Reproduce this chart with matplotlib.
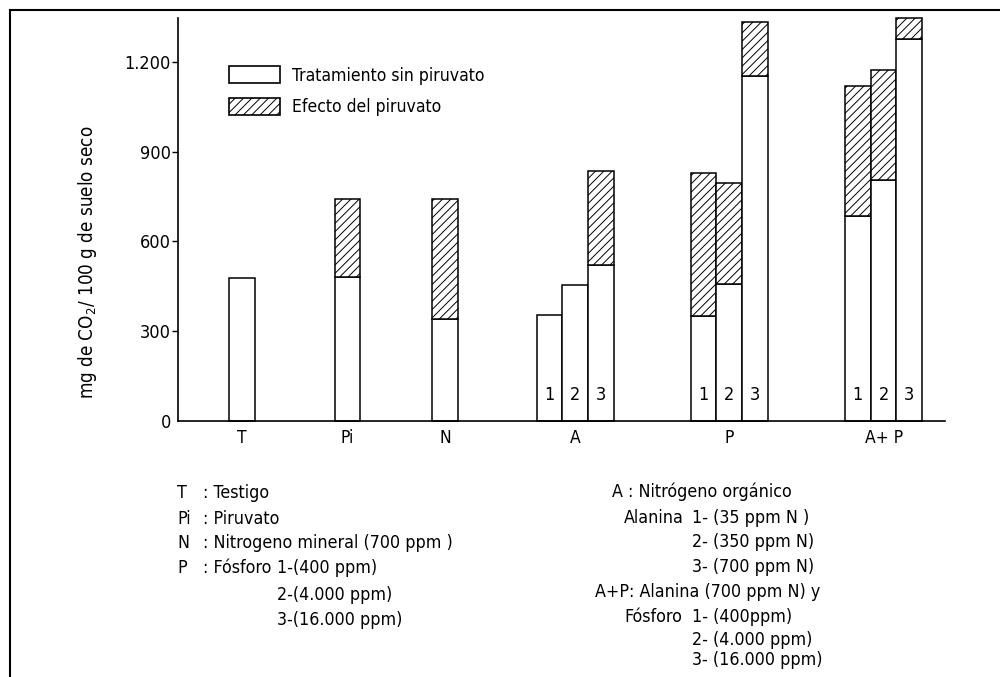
import matplotlib
matplotlib.use("Agg")
from matplotlib import pyplot as plt
from matplotlib.patches import Patch
from matplotlib.lines import Line2D

# valores (mg CO2 / 100 g suelo seco)
single_labels = ["T", "Pi", "N"]
single_base = [479, 480, 341]
single_total = [479, 742, 741]

group_labels = ["A", "P", "A+ P"]
group_base = [[355, 454, 521],
              [351, 457, 1152],
              [686, 804, 1275]]
group_total = [[355, 454, 835],
               [828, 796, 1333],
               [1120, 1173, 1346]]
sub_labels = ["1", "2", "3"]

yticks = [0, 300, 600, 900, 1200]
ytick_labels = ["0", "300", "600", "900", "1.200"]

plt.rcParams["font.family"] = ["DejaVu Sans"]
plt.rcParams["font.stretch"] = "condensed"
plt.rcParams["hatch.linewidth"] = 0.7

fig = plt.figure(figsize=(10, 6.77), dpi=100)
ax = fig.add_axes([0.178, 0.3781, 0.767, 0.5949])

single_x = [2.5, 6.6, 10.4]
group_x = [15.45, 21.45, 27.45]
w = 1.0
lw = 1.1

for x, b, t in zip(single_x, single_base, single_total):
    ax.bar(x, b, width=w, color="white", edgecolor="black", linewidth=lw, clip_on=False)
    if t > b:
        ax.bar(x, t - b, bottom=b, width=w, color="white", edgecolor="black",
               hatch="////", linewidth=lw, clip_on=False)

for gx, bases, totals in zip(group_x, group_base, group_total):
    for i, (b, t) in enumerate(zip(bases, totals)):
        x = gx + (i - 1) * w
        ax.bar(x, b, width=w, color="white", edgecolor="black", linewidth=lw, clip_on=False)
        if t > b:
            ax.bar(x, t - b, bottom=b, width=w, color="white", edgecolor="black",
                   hatch="////", linewidth=lw, clip_on=False)
        ax.text(x, 87, sub_labels[i], ha="center", va="center", fontsize=13)

ax.set_xlim(0, 29.84)
ax.set_ylim(0, 1345)
ax.set_yticks(yticks)
ax.set_yticklabels(ytick_labels, fontsize=13)
ax.set_xticks(single_x + group_x)
ax.set_xticklabels(single_labels + group_labels, fontsize=12.5)
ax.tick_params(axis="x", length=0, pad=6)
ax.tick_params(axis="y", direction="out", length=4, width=1, pad=1)
ax.yaxis.get_major_ticks()[0].tick1line.set_visible(False)
for s in ["top", "right"]:
    ax.spines[s].set_visible(False)
ax.spines["left"].set_linewidth(1.2)
ax.spines["bottom"].set_linewidth(1.2)

ax.set_ylabel("mg de CO$_2$/ 100 g de suelo seco", fontsize=13.5)
ax.yaxis.set_label_coords(-0.103, 0.395)

handles = [Patch(facecolor="white", edgecolor="black", linewidth=1.2),
           Patch(facecolor="white", edgecolor="black", hatch="////", linewidth=1.2)]
ax.legend(handles, ["Tratamiento sin piruvato", "Efecto del piruvato"],
          loc="upper left", bbox_to_anchor=(0.229, 1 - 66 / 677),
          bbox_transform=fig.transFigure, frameon=False, fontsize=12.6,
          handlelength=2.9, handleheight=1.14, labelspacing=0.75,
          handletextpad=0.69, borderpad=0, borderaxespad=0)

# notas al pie
def note(x, y, s, ha="left"):
    fig.text(x / 1000, 1 - y / 677, s, ha=ha, va="center", fontsize=12.8)

note(177, 493, "T")
note(203, 493, ": Testigo")
note(177, 519, "Pi")
note(203, 519, ": Piruvato")
note(177, 543, "N")
note(203, 543, ": Nitrogeno mineral (700 ppm )")
note(177, 568, "P")
note(203, 568, ": Fósforo")
note(277, 568, "1-(400 ppm)")
note(277, 595, "2-(4.000 ppm)")
note(277, 620, "3-(16.000 ppm)")

note(612, 492, "A : Nitrógeno orgánico")
note(684, 518, "Alanina", ha="right")
note(692, 518, "1- (35 ppm N )")
note(692, 542, "2- (350 ppm N)")
note(692, 567, "3- (700 ppm N)")
note(595, 592, "A+P: Alanina (700 ppm N) y")
note(682, 617, "Fósforo", ha="right")
note(692, 617, "1- (400ppm)")
note(692, 640, "2- (4.000 ppm)")
note(692, 660, "3- (16.000 ppm)")

# marco
fig.add_artist(Line2D([0.010, 1.0], [1 - 10 / 677, 1 - 10 / 677], color="black", linewidth=1.5))
fig.add_artist(Line2D([0.010, 0.010], [0, 1 - 10 / 677], color="black", linewidth=1.5))

fig.savefig("out.png", dpi=100)
